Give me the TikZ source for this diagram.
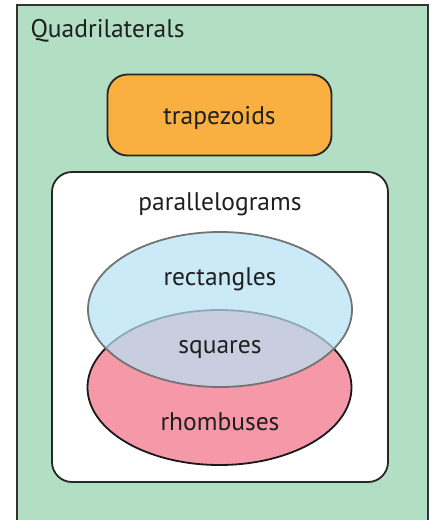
\documentclass[tikz,border=0pt]{standalone}
\usepackage{fontspec}
\setmainfont{PT Sans}
\usetikzlibrary{shapes.geometric}
\definecolor{quadgreen}{RGB}{178,222,195}
\definecolor{traporange}{RGB}{250,176,64}
\definecolor{rhombred}{RGB}{245,152,168}
\definecolor{rectblue}{RGB}{184,226,245}
\tikzset{
  setbox/.style={draw=black!85, line width=1.8pt, rounded corners=20pt},
  setoval/.style={ellipse, minimum width=264pt, minimum height=155pt, line width=1.8pt},
  lbl/.style={font=\fontsize{25.5}{28}\selectfont, text=black!88, anchor=base}
}
\begin{document}
\begin{tikzpicture}[x=1pt, y=-1pt]
\useasboundingbox (0,0) rectangle (432,520);
\clip (0,0) rectangle (432,520);
\draw[fill=quadgreen, draw=black!80, line width=2pt] (17,5) rectangle (428,530);
\node[lbl, anchor=base west] (quad) at (27,37) {Quadrilaterals};
\node[setbox, fill=traporange, minimum width=224pt, minimum height=81pt] (trap) at (219.5,115) {};
\node[lbl] (trapl) at (219.5,124) {trapezoids};
\draw[setbox, fill=white] (52,172) rectangle (388,482);
\node[lbl] (para) at (220,210) {parallelograms};
\node[setoval, draw=black!90, fill=rhombred] (rhomb) at (219.5,387.5) {};
\node[setoval, draw=black!55, fill=rectblue, fill opacity=.72] (rect) at (220,309.5) {};
\node[lbl] (rectl) at (220,285) {rectangles};
\node[lbl] (sq) at (220,353) {squares};
\node[lbl] (rh) at (220,430) {rhombuses};
\end{tikzpicture}
\end{document}
